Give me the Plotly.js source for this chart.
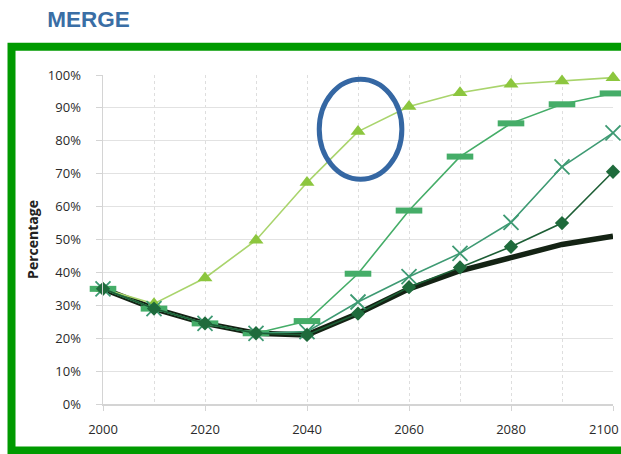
<!DOCTYPE html>
<html>
<head>
<meta charset="utf-8">
<script src="https://cdn.plot.ly/plotly-3.0.1.min.js"></script>
<style>html,body{margin:0;padding:0;background:#fff;}#chart{width:621px;height:454px;}</style>
</head>
<body>
<div id="chart"></div>
<script>
const years = [2000, 2010, 2020, 2030, 2040, 2050, 2060, 2070, 2080, 2090, 2100];
const baseline = [35, 29, 24.5, 21.5, 21, 27.5, 35, 40.5, 44.5, 48.5, 51];
const diamondSeries = [35, 29, 24.5, 21.5, 21, 27.5, 35.5, 41.5, 47.8, 55, 70.6];
const crossSeries = [35, 29, 24.5, 21.5, 22, 31, 38.7, 45.8, 55.2, 72.1, 82.4];
const dashSeries = [35, 29, 24.5, 21.5, 25.2, 39.6, 58.8, 75.2, 85.3, 91.1, 94.4];
const triangleSeries = [35, 30.5, 38.3, 49.8, 67.3, 82.8, 90.4, 94.6, 97.2, 98.2, 99.2];
const yTicks = [0, 10, 20, 30, 40, 50, 60, 70, 80, 90, 100];
const xTicks = [2000, 2020, 2040, 2060, 2080, 2100];
const lastXLabel = xTicks[xTicks.length - 1];

const traces = [
  {x: years, y: baseline, mode: 'lines', line: {color: '#142314', width: 5.5}, cliponaxis: false},
  {x: years, y: triangleSeries, mode: 'lines+markers', line: {color: '#a9d46c', width: 1.6},
   marker: {symbol: 'triangle-up', size: 13, color: '#8cc63e'}, cliponaxis: false},
  {x: years, y: dashSeries, mode: 'lines+markers', line: {color: '#45ad68', width: 1.6},
   marker: {symbol: 'line-ew-open', size: 19, line: {color: '#27b34b', width: 6}}, cliponaxis: false},
  {x: years, y: crossSeries, mode: 'lines+markers', line: {color: '#3e9a73', width: 1.6},
   marker: {symbol: 'x-thin-open', size: 15, line: {color: '#3a9a70', width: 1.8}}, cliponaxis: false},
  {x: years, y: diamondSeries, mode: 'lines+markers', line: {color: '#1d5e35', width: 1.6},
   marker: {symbol: 'diamond', size: 11, color: '#1f6b3c'}, cliponaxis: false}
];

const layout = {
  width: 621, height: 454,
  margin: {l: 103, r: 8, t: 75, b: 50},
  paper_bgcolor: '#ffffff', plot_bgcolor: '#ffffff',
  showlegend: false,
  font: {family: '"Open Sans", Lato, sans-serif', size: 13, color: '#2a2a2a'},
  title: {text: '<b>MERGE</b>', font: {family: 'Liberation Sans, Arial, sans-serif', size: 22.5, color: '#3a6ea5'},
          xref: 'container', yref: 'container', x: 0.076, xanchor: 'left', y: 0.958, yanchor: 'middle'},
  xaxis: {
    range: [2000, 2100], tickvals: xTicks,
    ticktext: xTicks.map(v => v === lastXLabel ? '' : String(v)),
    showgrid: true, gridcolor: '#dedede', griddash: 'dot', gridwidth: 1,
    minor: {dtick: 10, tick0: 2000, showgrid: true, gridcolor: '#dedede', griddash: 'dot', ticks: ''},
    showline: true, linecolor: '#d4d4d4', linewidth: 2,
    ticks: 'outside', ticklen: 5, tickcolor: '#d4d4d4', ticklabelstandoff: 7,
    zeroline: false, fixedrange: true
  },
  yaxis: {
    range: [0, 100], tickvals: yTicks, ticktext: yTicks.map(v => v + '%'),
    showgrid: true, gridcolor: '#e2e2e2', gridwidth: 1,
    showline: true, linecolor: '#d4d4d4', linewidth: 1.5,
    ticks: 'outside', ticklen: 6, tickcolor: '#d4d4d4', ticklabelstandoff: 12,
    zeroline: false, fixedrange: true,
    title: {text: '<b>Percentage</b>', font: {family: '"Open Sans", sans-serif', size: 14, color: '#222'}, standoff: 6}
  },
  annotations: [
    {text: String(lastXLabel), x: lastXLabel, xref: 'x', xanchor: 'right', xshift: 8,
     y: 0, yref: 'paper', yanchor: 'top', yshift: -14, showarrow: false,
     font: {family: '"Open Sans", Lato, sans-serif', size: 13, color: '#2a2a2a'}}
  ],
  shapes: [
    {type: 'rect', xref: 'paper', yref: 'paper', x0: -0.1794, x1: 1.04, y0: -0.1413, y1: 1.086,
     line: {color: '#009a00', width: 8}, fillcolor: 'rgba(0,0,0,0)', layer: 'above'},
    {type: 'circle', xref: 'x', yref: 'y', x0: 2042.4, x1: 2058.6, y0: 68.3, y1: 98.7,
     line: {color: '#3567a3', width: 5}, fillcolor: 'rgba(0,0,0,0)', layer: 'above'}
  ]
};

Plotly.newPlot('chart', traces, layout, {displayModeBar: false, staticPlot: true});
</script>
</body>
</html>
